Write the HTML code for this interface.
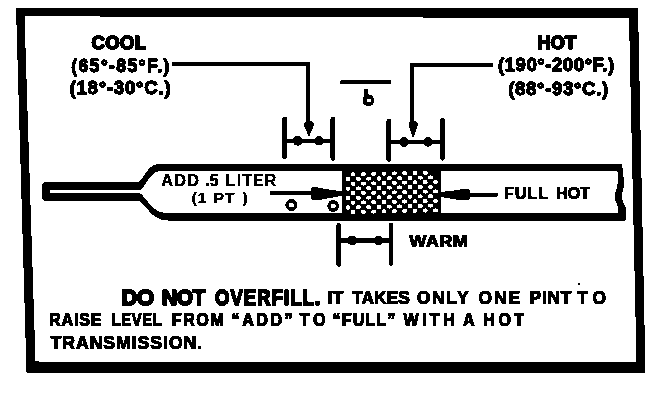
<!DOCTYPE html><html><head><meta charset="utf-8"><style>html,body{margin:0;padding:0;background:#fff;}svg{display:block;}</style></head><body><svg width="672" height="400" viewBox="0 0 672 400"><defs><filter id="bin" x="0" y="0" width="672" height="400" filterUnits="userSpaceOnUse" color-interpolation-filters="sRGB"><feColorMatrix type="matrix" values="0.333 0.334 0.333 0 0 0.333 0.334 0.333 0 0 0.333 0.334 0.333 0 0 0 0 0 1 0"/><feComponentTransfer><feFuncR type="discrete" tableValues="0 1"/><feFuncG type="discrete" tableValues="0 1"/><feFuncB type="discrete" tableValues="0 1"/></feComponentTransfer></filter></defs><g filter="url(#bin)"><rect width="672" height="400" fill="#fff"/><path fill-rule="evenodd" d="M16,8 L638,8 L645.5,373 L26.5,372.5 Z M24.5,16.2 L629,18.2 L636.5,362.5 L35.5,361.5 Z"/>
<path d="M44,182.5 L138,182.5 C144,180 147,164.5 159,163.8 L621,163.8 C622,164.5 623,168 623.3,175 C623.8,181 624.5,186 622.5,192 C621.5,196 622,200 624.5,205 C627,209 626.5,215 625.5,220.6 L168,220.6 C150,220 146,203 138,200.5 L44,200.5 Q42,200 42,196 L42,187 Q42,183 44,182.5 Z"/>
<path fill="#fff" d="M139,192.3 C146,186 150,171 161,171 L617.3,171 C618.3,175 618.5,182 616.5,189 C615,193 614,196 615.5,201 C617,204 618.5,207 618.5,213 L167,213 C152,213 147,198 139,192.3 Z"/>
<rect x="50" y="190" width="92" height="2.5" fill="#fff"/>
<rect x="342" y="164" width="99" height="56"/>
<g fill="#fff"><rect x="350.80" y="172.43" width="4.6" height="3.8" rx="1.3"/>
<rect x="361.10" y="172.21" width="4.6" height="3.8" rx="1.3"/>
<rect x="371.40" y="171.98" width="4.6" height="3.8" rx="1.3"/>
<rect x="381.70" y="171.75" width="4.6" height="3.8" rx="1.3"/>
<rect x="392.00" y="171.53" width="4.6" height="3.8" rx="1.3"/>
<rect x="402.30" y="171.30" width="4.6" height="3.8" rx="1.3"/>
<rect x="412.60" y="171.07" width="4.6" height="3.8" rx="1.3"/>
<rect x="422.90" y="170.85" width="4.6" height="3.8" rx="1.3"/>
<rect x="345.80" y="177.26" width="4.6" height="3.8" rx="1.3"/>
<rect x="356.10" y="177.04" width="4.6" height="3.8" rx="1.3"/>
<rect x="366.40" y="176.81" width="4.6" height="3.8" rx="1.3"/>
<rect x="376.70" y="176.58" width="4.6" height="3.8" rx="1.3"/>
<rect x="387.00" y="176.36" width="4.6" height="3.8" rx="1.3"/>
<rect x="397.30" y="176.13" width="4.6" height="3.8" rx="1.3"/>
<rect x="407.60" y="175.90" width="4.6" height="3.8" rx="1.3"/>
<rect x="417.90" y="175.68" width="4.6" height="3.8" rx="1.3"/>
<rect x="428.20" y="175.45" width="4.6" height="3.8" rx="1.3"/>
<rect x="350.80" y="181.87" width="4.6" height="3.8" rx="1.3"/>
<rect x="361.10" y="181.65" width="4.6" height="3.8" rx="1.3"/>
<rect x="371.40" y="181.42" width="4.6" height="3.8" rx="1.3"/>
<rect x="381.70" y="181.19" width="4.6" height="3.8" rx="1.3"/>
<rect x="392.00" y="180.97" width="4.6" height="3.8" rx="1.3"/>
<rect x="402.30" y="180.74" width="4.6" height="3.8" rx="1.3"/>
<rect x="412.60" y="180.51" width="4.6" height="3.8" rx="1.3"/>
<rect x="422.90" y="180.29" width="4.6" height="3.8" rx="1.3"/>
<rect x="433.20" y="180.06" width="4.6" height="3.8" rx="1.3"/>
<rect x="345.80" y="186.70" width="4.6" height="3.8" rx="1.3"/>
<rect x="356.10" y="186.48" width="4.6" height="3.8" rx="1.3"/>
<rect x="366.40" y="186.25" width="4.6" height="3.8" rx="1.3"/>
<rect x="376.70" y="186.02" width="4.6" height="3.8" rx="1.3"/>
<rect x="387.00" y="185.80" width="4.6" height="3.8" rx="1.3"/>
<rect x="397.30" y="185.57" width="4.6" height="3.8" rx="1.3"/>
<rect x="407.60" y="185.34" width="4.6" height="3.8" rx="1.3"/>
<rect x="417.90" y="185.12" width="4.6" height="3.8" rx="1.3"/>
<rect x="428.20" y="184.89" width="4.6" height="3.8" rx="1.3"/>
<rect x="350.80" y="191.31" width="4.6" height="3.8" rx="1.3"/>
<rect x="361.10" y="191.09" width="4.6" height="3.8" rx="1.3"/>
<rect x="371.40" y="190.86" width="4.6" height="3.8" rx="1.3"/>
<rect x="381.70" y="190.63" width="4.6" height="3.8" rx="1.3"/>
<rect x="392.00" y="190.41" width="4.6" height="3.8" rx="1.3"/>
<rect x="402.30" y="190.18" width="4.6" height="3.8" rx="1.3"/>
<rect x="412.60" y="189.95" width="4.6" height="3.8" rx="1.3"/>
<rect x="422.90" y="189.73" width="4.6" height="3.8" rx="1.3"/>
<rect x="433.20" y="189.50" width="4.6" height="3.8" rx="1.3"/>
<rect x="345.80" y="196.14" width="4.6" height="3.8" rx="1.3"/>
<rect x="356.10" y="195.92" width="4.6" height="3.8" rx="1.3"/>
<rect x="366.40" y="195.69" width="4.6" height="3.8" rx="1.3"/>
<rect x="376.70" y="195.46" width="4.6" height="3.8" rx="1.3"/>
<rect x="387.00" y="195.24" width="4.6" height="3.8" rx="1.3"/>
<rect x="397.30" y="195.01" width="4.6" height="3.8" rx="1.3"/>
<rect x="407.60" y="194.78" width="4.6" height="3.8" rx="1.3"/>
<rect x="417.90" y="194.56" width="4.6" height="3.8" rx="1.3"/>
<rect x="428.20" y="194.33" width="4.6" height="3.8" rx="1.3"/>
<rect x="350.80" y="200.75" width="4.6" height="3.8" rx="1.3"/>
<rect x="361.10" y="200.53" width="4.6" height="3.8" rx="1.3"/>
<rect x="371.40" y="200.30" width="4.6" height="3.8" rx="1.3"/>
<rect x="381.70" y="200.07" width="4.6" height="3.8" rx="1.3"/>
<rect x="392.00" y="199.85" width="4.6" height="3.8" rx="1.3"/>
<rect x="402.30" y="199.62" width="4.6" height="3.8" rx="1.3"/>
<rect x="412.60" y="199.39" width="4.6" height="3.8" rx="1.3"/>
<rect x="422.90" y="199.17" width="4.6" height="3.8" rx="1.3"/>
<rect x="433.20" y="198.94" width="4.6" height="3.8" rx="1.3"/>
<rect x="345.80" y="205.58" width="4.6" height="3.8" rx="1.3"/>
<rect x="356.10" y="205.36" width="4.6" height="3.8" rx="1.3"/>
<rect x="366.40" y="205.13" width="4.6" height="3.8" rx="1.3"/>
<rect x="376.70" y="204.90" width="4.6" height="3.8" rx="1.3"/>
<rect x="387.00" y="204.68" width="4.6" height="3.8" rx="1.3"/>
<rect x="397.30" y="204.45" width="4.6" height="3.8" rx="1.3"/>
<rect x="407.60" y="204.22" width="4.6" height="3.8" rx="1.3"/>
<rect x="417.90" y="204.00" width="4.6" height="3.8" rx="1.3"/>
<rect x="428.20" y="203.77" width="4.6" height="3.8" rx="1.3"/>
<rect x="350.80" y="210.19" width="4.6" height="3.8" rx="1.3"/>
<rect x="361.10" y="209.97" width="4.6" height="3.8" rx="1.3"/>
<rect x="371.40" y="209.74" width="4.6" height="3.8" rx="1.3"/>
<rect x="381.70" y="209.51" width="4.6" height="3.8" rx="1.3"/>
<rect x="392.00" y="209.29" width="4.6" height="3.8" rx="1.3"/>
<rect x="402.30" y="209.06" width="4.6" height="3.8" rx="1.3"/>
<rect x="412.60" y="208.83" width="4.6" height="3.8" rx="1.3"/>
<rect x="422.90" y="208.61" width="4.6" height="3.8" rx="1.3"/>
<rect x="433.20" y="208.38" width="4.6" height="3.8" rx="1.3"/></g>
<path d="M270,191.2 L311,191 L311,188 Q312,186.8 315,187 L326,189 L342,191.5 L342,195.8 L326,198.8 L316,200.5 Q312,200.6 311,199 L311,195 L270,194.8 Z"/>
<path d="M497.5,193 L469.5,193 L469.5,190 Q469,188.5 466,188.5 L456,190.2 L441,192 L441,197 L456,199.5 L466,200.5 Q469,200.6 469.5,199 L469.5,196.8 L497.5,196.8 Z"/>
<circle cx="291.4" cy="205" r="4.3" fill="none" stroke="#000" stroke-width="3.4"/>
<circle cx="333.2" cy="206" r="4.2" fill="none" stroke="#000" stroke-width="3.4"/>
<path d="M172,64.3 L308.3,64.3 L308.3,124" fill="none" stroke="#000" stroke-width="3.9"/>
<path d="M304,124.5 C304,119.5 313.8,119.5 313.8,124.5 C313.8,127 311,131 309.5,136.5 L308.5,136.5 C307,131 304,127 304,124.5 Z"/>
<path d="M493,64.9 L412,64.9 L412,124" fill="none" stroke="#000" stroke-width="3.9"/>
<path d="M408.6,124.5 C408.6,119.5 417.8,119.5 417.8,124.5 C417.8,127 415,132 413.7,137.5 L412.7,137.5 C411.4,132 408.6,127 408.6,124.5 Z"/>
<path d="M284.6,119 L284.6,157 M332.9,119 L332.9,158.5 " fill="none" stroke="#000" stroke-width="4.8" stroke-linecap="round"/>
<path d="M284.6,140.9 L332.9,140.9" stroke="#000" stroke-width="4.3"/>
<ellipse cx="297.6" cy="140.9" rx="4.8" ry="4.9"/>
<ellipse cx="319" cy="140.9" rx="4.6" ry="4.7"/>
<path d="M388.8,121 L388.8,159.5 M442.5,120 L442.5,158.3 " fill="none" stroke="#000" stroke-width="4.8" stroke-linecap="round"/>
<path d="M388.8,142 L442.5,142" stroke="#000" stroke-width="4.3"/>
<ellipse cx="404" cy="142" rx="4.8" ry="4.9"/>
<ellipse cx="428" cy="142" rx="4.6" ry="4.7"/>
<path d="M338.8,225.5 L338.8,264.5 M391,225.5 L391,263.3 " fill="none" stroke="#000" stroke-width="4.8" stroke-linecap="round"/>
<path d="M338.8,240.5 L391,240.5" stroke="#000" stroke-width="4.3"/>
<ellipse cx="352.2" cy="240.5" rx="4.8" ry="4.9"/>
<ellipse cx="378.5" cy="240.5" rx="4.6" ry="4.7"/>
<path d="M341.5,79.4 L391,79.9 L391,83.6 L341.5,84.4 Q340.2,84.2 340.2,82 Q340.2,79.6 341.5,79.4 Z"/>
<path d="M364,90.5 Q364,89 366,88.8 L368.2,88.8 L368.2,91 L367.6,91 L367.6,96.5 L364,99 Z"/>
<path fill-rule="evenodd" d="M362.8,100.4 C362.8,96.5 365,94.6 368.4,94.6 C372,94.6 374,97 374,100.4 C374,104 371.8,106 368.4,106 C365,106 362.8,104 362.8,100.4 Z M366.8,100.5 C366.8,99.3 367.8,98.8 369,98.8 C370.5,98.8 371.3,99.6 371.3,100.5 C371.3,101.5 370.4,102.2 369,102.2 C367.8,102.2 366.8,101.6 366.8,100.5 Z"/>
<circle cx="579" cy="283.8" r="1.2"/><g font-family="Liberation Sans, sans-serif" fill="#000"><text transform="translate(91.53,48.60) scale(1.0000,1)" font-size="18.41" font-weight="700" letter-spacing="0.456" stroke="#000" stroke-width="1.8" stroke-linejoin="round" vector-effect="non-scaling-stroke">COOL</text>
<text transform="translate(71.17,71.75) scale(1.0000,1)" font-size="17.54" font-weight="700" letter-spacing="1.394" stroke="#000" stroke-width="1.3" stroke-linejoin="round" vector-effect="non-scaling-stroke">(65°-85°F.)</text>
<text transform="translate(69.52,93.75) scale(1.0000,1)" font-size="18.55" font-weight="700" letter-spacing="0.796" stroke="#000" stroke-width="1.3" stroke-linejoin="round" vector-effect="non-scaling-stroke">(18°-30°C.)</text>
<text transform="translate(537.40,48.90) scale(1.0000,1)" font-size="18.12" font-weight="700" letter-spacing="0.176" stroke="#000" stroke-width="1.8" stroke-linejoin="round" vector-effect="non-scaling-stroke">HOT</text>
<text transform="translate(498.02,71.05) scale(1.0000,1)" font-size="18.55" font-weight="700" letter-spacing="0.546" stroke="#000" stroke-width="1.3" stroke-linejoin="round" vector-effect="non-scaling-stroke">(190°-200°F.)</text>
<text transform="translate(508.31,95.15) scale(1.0000,1)" font-size="18.84" font-weight="700" letter-spacing="0.533" stroke="#000" stroke-width="1.3" stroke-linejoin="round" vector-effect="non-scaling-stroke">(88°-93°C.)</text>
<text transform="translate(161.39,185.50) scale(1.0000,1)" font-size="15.80" font-weight="700" letter-spacing="1.679" stroke="#000" stroke-width="0.4" stroke-linejoin="round" vector-effect="non-scaling-stroke">ADD</text>
<text transform="translate(205.50,185.50) scale(1.0000,1)" font-size="15.80" font-weight="700" letter-spacing="0.000" stroke="#000" stroke-width="0.4" stroke-linejoin="round" vector-effect="non-scaling-stroke">.</text>
<text transform="translate(209.83,185.50) scale(1.0000,1)" font-size="15.80" font-weight="700" letter-spacing="0.000" stroke="#000" stroke-width="0.4" stroke-linejoin="round" vector-effect="non-scaling-stroke">5</text>
<text transform="translate(225.86,185.50) scale(1.0000,1)" font-size="15.80" font-weight="700" letter-spacing="1.159" stroke="#000" stroke-width="0.4" stroke-linejoin="round" vector-effect="non-scaling-stroke">LITER</text>
<text transform="translate(191.82,203.10) scale(1.0000,1)" font-size="15.36" font-weight="700" letter-spacing="0.000" stroke="#000" stroke-width="0.4" stroke-linejoin="round" vector-effect="non-scaling-stroke">(</text>
<text transform="translate(197.77,203.10) scale(1.0000,1)" font-size="15.36" font-weight="700" letter-spacing="0.000" stroke="#000" stroke-width="0.4" stroke-linejoin="round" vector-effect="non-scaling-stroke">1</text>
<text transform="translate(213.79,203.10) scale(1.0000,1)" font-size="15.36" font-weight="700" letter-spacing="0.934" stroke="#000" stroke-width="0.4" stroke-linejoin="round" vector-effect="non-scaling-stroke">PT</text>
<text transform="translate(242.45,203.10) scale(1.0000,1)" font-size="15.36" font-weight="700" letter-spacing="0.000" stroke="#000" stroke-width="0.4" stroke-linejoin="round" vector-effect="non-scaling-stroke">)</text>
<text transform="translate(504.10,198.85) scale(0.9500,1)" font-size="16.81" font-weight="700" letter-spacing="1.138" stroke="#000" stroke-width="1.1" stroke-linejoin="round" vector-effect="non-scaling-stroke">FULL</text>
<text transform="translate(556.00,198.85) scale(0.9500,1)" font-size="16.81" font-weight="700" letter-spacing="0.166" stroke="#000" stroke-width="1.1" stroke-linejoin="round" vector-effect="non-scaling-stroke">HOT</text>
<text transform="translate(409.21,246.85) scale(1.1500,1)" font-size="15.80" font-weight="700" letter-spacing="0.306" stroke="#000" stroke-width="1.1" stroke-linejoin="round" vector-effect="non-scaling-stroke">WARM</text>
<text transform="translate(121.41,305.05) scale(1.0000,1)" font-size="21.88" font-weight="700" letter-spacing="-0.163" stroke="#000" stroke-width="1.9" stroke-linejoin="round" vector-effect="non-scaling-stroke">DO</text>
<text transform="translate(161.98,305.05) scale(0.9500,1)" font-size="21.88" font-weight="700" letter-spacing="-0.151" stroke="#000" stroke-width="1.9" stroke-linejoin="round" vector-effect="non-scaling-stroke">NOT</text>
<text transform="translate(214.98,305.05) scale(0.8400,1)" font-size="21.88" font-weight="700" letter-spacing="1.388" stroke="#000" stroke-width="1.9" stroke-linejoin="round" vector-effect="non-scaling-stroke">OVERFILL.</text>
<text transform="translate(327.79,304.05) scale(0.9200,1)" font-size="18.99" font-weight="700" letter-spacing="0.000" stroke="#000" stroke-width="1.1" stroke-linejoin="round" vector-effect="non-scaling-stroke">I</text>
<text transform="translate(332.66,304.05) scale(0.9200,1)" font-size="18.99" font-weight="700" letter-spacing="0.000" stroke="#000" stroke-width="1.1" stroke-linejoin="round" vector-effect="non-scaling-stroke">T</text>
<text transform="translate(352.09,304.05) scale(0.9200,1)" font-size="18.99" font-weight="700" letter-spacing="0.011" stroke="#000" stroke-width="1.1" stroke-linejoin="round" vector-effect="non-scaling-stroke">TAKES</text>
<text transform="translate(416.82,304.05) scale(0.9200,1)" font-size="18.99" font-weight="700" letter-spacing="1.811" stroke="#000" stroke-width="1.1" stroke-linejoin="round" vector-effect="non-scaling-stroke">ONLY</text>
<text transform="translate(478.42,304.05) scale(0.9200,1)" font-size="18.99" font-weight="700" letter-spacing="2.100" stroke="#000" stroke-width="1.1" stroke-linejoin="round" vector-effect="non-scaling-stroke">ONE</text>
<text transform="translate(529.60,304.05) scale(0.9200,1)" font-size="18.99" font-weight="700" letter-spacing="0.775" stroke="#000" stroke-width="1.1" stroke-linejoin="round" vector-effect="non-scaling-stroke">PINT</text>
<text transform="translate(577.24,304.05) scale(0.9200,1)" font-size="18.99" font-weight="700" letter-spacing="5.232" stroke="#000" stroke-width="1.1" stroke-linejoin="round" vector-effect="non-scaling-stroke">TO</text>
<text transform="translate(49.09,326.45) scale(0.9200,1)" font-size="17.54" font-weight="700" letter-spacing="0.863" stroke="#000" stroke-width="1.1" stroke-linejoin="round" vector-effect="non-scaling-stroke">RAISE</text>
<text transform="translate(111.67,326.45) scale(0.8500,1)" font-size="17.54" font-weight="700" letter-spacing="0.619" stroke="#000" stroke-width="1.1" stroke-linejoin="round" vector-effect="non-scaling-stroke">LEVEL</text>
<text transform="translate(171.69,326.45) scale(0.9200,1)" font-size="17.54" font-weight="700" letter-spacing="1.727" stroke="#000" stroke-width="1.1" stroke-linejoin="round" vector-effect="non-scaling-stroke">FROM</text>
<text transform="translate(231.56,326.45) scale(0.9200,1)" font-size="17.54" font-weight="700" letter-spacing="2.720" stroke="#000" stroke-width="1.1" stroke-linejoin="round" vector-effect="non-scaling-stroke">“ADD”</text>
<text transform="translate(299.86,326.45) scale(0.9200,1)" font-size="17.54" font-weight="700" letter-spacing="3.988" stroke="#000" stroke-width="1.1" stroke-linejoin="round" vector-effect="non-scaling-stroke">TO</text>
<text transform="translate(332.56,326.45) scale(0.9200,1)" font-size="17.54" font-weight="700" letter-spacing="1.185" stroke="#000" stroke-width="1.1" stroke-linejoin="round" vector-effect="non-scaling-stroke">“FULL”</text>
<text transform="translate(403.52,326.45) scale(0.9200,1)" font-size="17.54" font-weight="700" letter-spacing="3.596" stroke="#000" stroke-width="1.1" stroke-linejoin="round" vector-effect="non-scaling-stroke">WITH</text>
<text transform="translate(463.08,326.45) scale(0.9200,1)" font-size="17.54" font-weight="700" letter-spacing="0.000" stroke="#000" stroke-width="1.1" stroke-linejoin="round" vector-effect="non-scaling-stroke">A</text>
<text transform="translate(483.29,326.45) scale(0.9200,1)" font-size="17.54" font-weight="700" letter-spacing="3.742" stroke="#000" stroke-width="1.1" stroke-linejoin="round" vector-effect="non-scaling-stroke">HOT</text>
<text transform="translate(50.54,348.95) scale(0.9200,1)" font-size="19.28" font-weight="700" letter-spacing="0.970" stroke="#000" stroke-width="1.1" stroke-linejoin="round" vector-effect="non-scaling-stroke">TRANSMISSION.</text></g></g></svg></body></html>
